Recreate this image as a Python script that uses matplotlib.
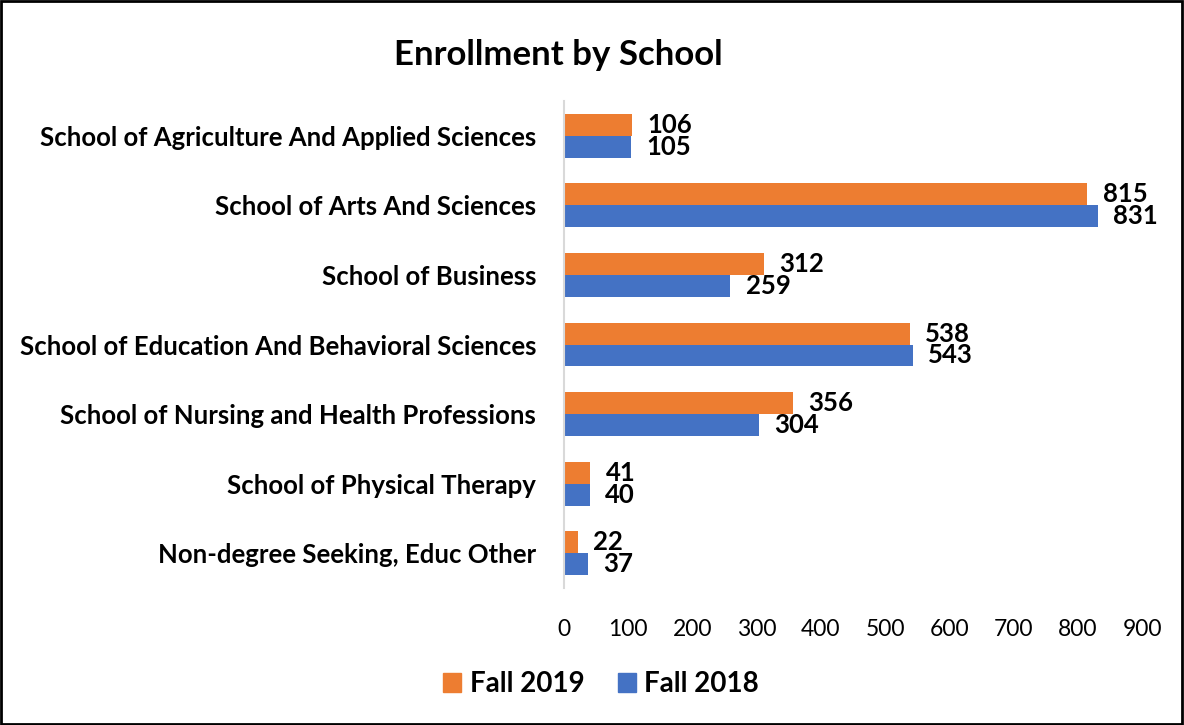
#!/usr/bin/env python3

import matplotlib.pyplot as plt
import numpy as np
from matplotlib.patches import Rectangle

schools = ['School of Agriculture And Applied Sciences',
           'School of Arts And Sciences',
           'School of Business',
           'School of Education And Behavioral Sciences',
           'School of Nursing and Health Professions',
           'School of Physical Therapy',
           'Non-degree Seeking, Educ Other']
fall2019 = [106, 815, 312, 538, 356, 41, 22]
fall2018 = [105, 831, 259, 543, 304, 40, 37]
xticks = [0, 100, 200, 300, 400, 500, 600, 700, 800, 900]

ORANGE = '#ED7D31'
BLUE = '#4472C4'

plt.rcParams['font.family'] = ['Lato', 'DejaVu Sans']


def plot(fileName):
    fig = plt.figure(figsize=(11.84, 7.25), dpi=100)
    ax = fig.add_axes([564 / 1184, 1 - 588 / 725, (1142 - 564) / 1184, (588 - 101) / 725])

    y = np.arange(len(schools))
    h = 0.315
    ax.barh(y - h / 2, fall2019, height=h, color=ORANGE, label='Fall 2019')
    ax.barh(y + h / 2, fall2018, height=h, color=BLUE, label='Fall 2018')

    for i in range(len(schools)):
        ax.annotate(str(fall2019[i]), (fall2019[i], y[i] - h / 2), xytext=(11, 0),
                    textcoords='offset points', va='center', ha='left',
                    fontsize=18.5, fontweight='bold')
        ax.annotate(str(fall2018[i]), (fall2018[i], y[i] + h / 2), xytext=(11, 0),
                    textcoords='offset points', va='center', ha='left',
                    fontsize=18.5, fontweight='bold')

    ax.set_ylim(len(schools) - 0.5, -0.5)
    ax.set_xlim(0, 900)
    ax.set_yticks(y)
    ax.set_yticklabels(schools, fontsize=18.5, fontweight='bold')
    ax.set_xticks(xticks)
    ax.set_xticklabels([str(t) for t in xticks], fontsize=16.5)
    ax.tick_params(axis='y', length=0, pad=20)
    ax.tick_params(axis='x', length=0, pad=22)

    for s in ['top', 'right', 'bottom']:
        ax.spines[s].set_visible(False)
    ax.spines['left'].set_color('#d9d9d9')
    ax.spines['left'].set_linewidth(1.5)

    fig.text(558 / 1184, 1 - 55 / 725, 'Enrollment by School', ha='center', va='center',
             fontsize=25, fontweight='bold')

    handles = [Rectangle((0, 0), 1, 1, color=ORANGE), Rectangle((0, 0), 1, 1, color=BLUE)]
    fig.legend(handles, ['Fall 2019', 'Fall 2018'], loc='center', ncol=2,
               bbox_to_anchor=(601 / 1184, 1 - 684 / 725), frameon=False,
               prop={'size': 20, 'weight': 'bold'}, handlelength=0.65, handleheight=0.65,
               handletextpad=0.3, columnspacing=1.2)

    fig.patches.append(Rectangle((0.001, 0.001), 0.997, 0.997, transform=fig.transFigure,
                                 fill=False, edgecolor='black', linewidth=2))

    plt.savefig(fileName, dpi=100)


if __name__ == '__main__':
    plot('out.png')
